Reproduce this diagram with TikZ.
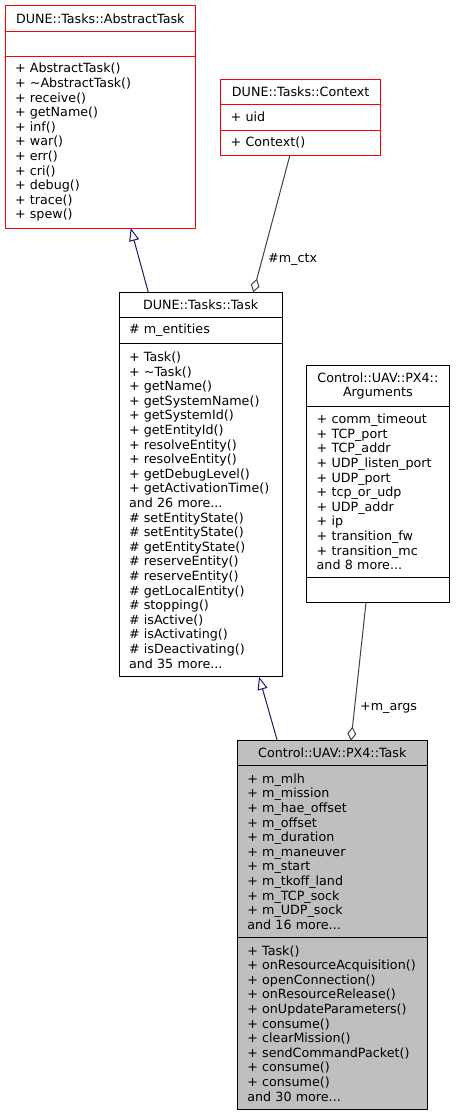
\documentclass[tikz,border=0pt]{standalone}
\usepackage{fontspec}
\setmainfont{DejaVu Sans}
\usepackage{tikz}
\usetikzlibrary{arrows.meta}
\definecolor{boxred}{HTML}{FF0000}
\definecolor{boxgray}{HTML}{BFBFBF}
\definecolor{edgeblue}{HTML}{191970}
\definecolor{edgegray}{HTML}{404040}
\begin{document}
\begin{tikzpicture}[x=1pt,y=-1pt,
  part/.style={draw, line width=1pt, rectangle, outer sep=0pt, anchor=north west,
    inner xsep=10pt, inner ysep=2pt, align=left, font=\fontsize{12.7}{14.6}\selectfont},
  head/.style={part, align=center},
  redpart/.style={draw=boxred, fill=white},
  mainpart/.style={fill=boxgray},
  inherit/.style={edgeblue, line width=1pt, -{Triangle[open, length=13pt, width=10pt]}},
  member/.style={edgegray, line width=1pt, -{Diamond[open, length=14pt, width=9pt]}},
  lbl/.style={anchor=west, inner sep=0pt, font=\fontsize{12.7}{14.6}\selectfont}]
\useasboundingbox (0,0) rectangle (455,1116);
% DUNE::Tasks::AbstractTask
\node[head, redpart, text width=170.7pt, minimum height=25.7pt] (abshead) at (5,6) {DUNE::Tasks::AbstractTask};
\node[part, redpart, text width=170.7pt, minimum height=25pt] (absattr) at (abshead.south west) {};
\node[part, redpart, text width=170.7pt, minimum height=171.3pt] (absops) at (absattr.south west)
  {+ AbstractTask()\\+ \textasciitilde AbstractTask()\\+ receive()\\+ getName()\\+ inf()\\+ war()\\+ err()\\+ cri()\\+ debug()\\+ trace()\\+ spew()};
% DUNE::Tasks::Context
\node[head, redpart, text width=140pt, minimum height=25pt] (ctxhead) at (220.7,79.3) {DUNE::Tasks::Context};
\node[part, redpart, text width=140pt, minimum height=25.7pt] (ctxattr) at (ctxhead.south west) {+ uid};
\node[part, redpart, text width=140pt, minimum height=25pt] (ctxops) at (ctxattr.south west) {+ Context()};
% DUNE::Tasks::Task
\node[head, fill=white, text width=143.3pt, minimum height=25.4pt] (taskhead) at (119,292.3) {DUNE::Tasks::Task};
\node[part, fill=white, text width=143.3pt, minimum height=25.6pt] (taskattr) at (taskhead.south west) {\# m\_entities};
\node[part, fill=white, text width=143.3pt, minimum height=333.4pt] (taskops) at (taskattr.south west)
  {+ Task()\\+ \textasciitilde Task()\\+ getName()\\+ getSystemName()\\+ getSystemId()\\+ getEntityId()\\+ resolveEntity()\\+ resolveEntity()\\+ getDebugLevel()\\+ getActivationTime()\\and 26 more...\\\# setEntityState()\\\# setEntityState()\\\# getEntityState()\\\# reserveEntity()\\\# reserveEntity()\\\# getLocalEntity()\\\# stopping()\\\# isActive()\\\# isActivating()\\\# isDeactivating()\\and 35 more...};
% Control::UAV::PX4::Arguments
\node[head, fill=white, text width=122.3pt, minimum height=41pt, font=\fontsize{12.7}{14}\selectfont] (arghead) at (306.7,365.7) {Control::UAV::PX4::\\Arguments};
\node[part, fill=white, text width=122.3pt, minimum height=170.6pt] (argattr) at (arghead.south west)
  {+ comm\_timeout\\+ TCP\_port\\+ TCP\_addr\\+ UDP\_listen\_port\\+ UDP\_port\\+ tcp\_or\_udp\\+ UDP\_addr\\+ ip\\+ transition\_fw\\+ transition\_mc\\and 8 more...};
\node[part, fill=white, text width=122.3pt, minimum height=25.4pt] (argops) at (argattr.south west) {};
% Control::UAV::PX4::Task
\node[head, mainpart, text width=170pt, minimum height=25pt] (px4head) at (237.3,740.7) {Control::UAV::PX4::Task};
\node[part, mainpart, text width=170pt, minimum height=171.6pt] (px4attr) at (px4head.south west)
  {+ m\_mlh\\+ m\_mission\\+ m\_hae\_offset\\+ m\_offset\\+ m\_duration\\+ m\_maneuver\\+ m\_start\\+ m\_tkoff\_land\\+ m\_TCP\_sock\\+ m\_UDP\_sock\\and 16 more...};
\node[part, mainpart, text width=170pt, minimum height=172pt] (px4ops) at (px4attr.south west)
  {+ Task()\\+ onResourceAcquisition()\\+ openConnection()\\+ onResourceRelease()\\+ onUpdateParameters()\\+ consume()\\+ clearMission()\\+ sendCommandPacket()\\+ consume()\\+ consume()\\and 30 more...};
% inheritance
\draw[inherit] ([xshift=29.3pt]taskhead.north west) -- ([xshift=125.7pt]absops.south west);
\draw[inherit] ([xshift=40pt]px4head.north west) -- ([xshift=140pt]taskops.south west);
% members
\draw[member] ([xshift=69.3pt]ctxops.south west) -- ([xshift=134.3pt]taskhead.north west);
\node[lbl] (ctxlbl) at (268,259) {\#m\_ctx};
\draw[member] ([xshift=59.3pt]argops.south west) -- ([xshift=113.7pt]px4head.north west);
\node[lbl] (arglbl) at (360,708) {+m\_args};
\end{tikzpicture}
\end{document}
